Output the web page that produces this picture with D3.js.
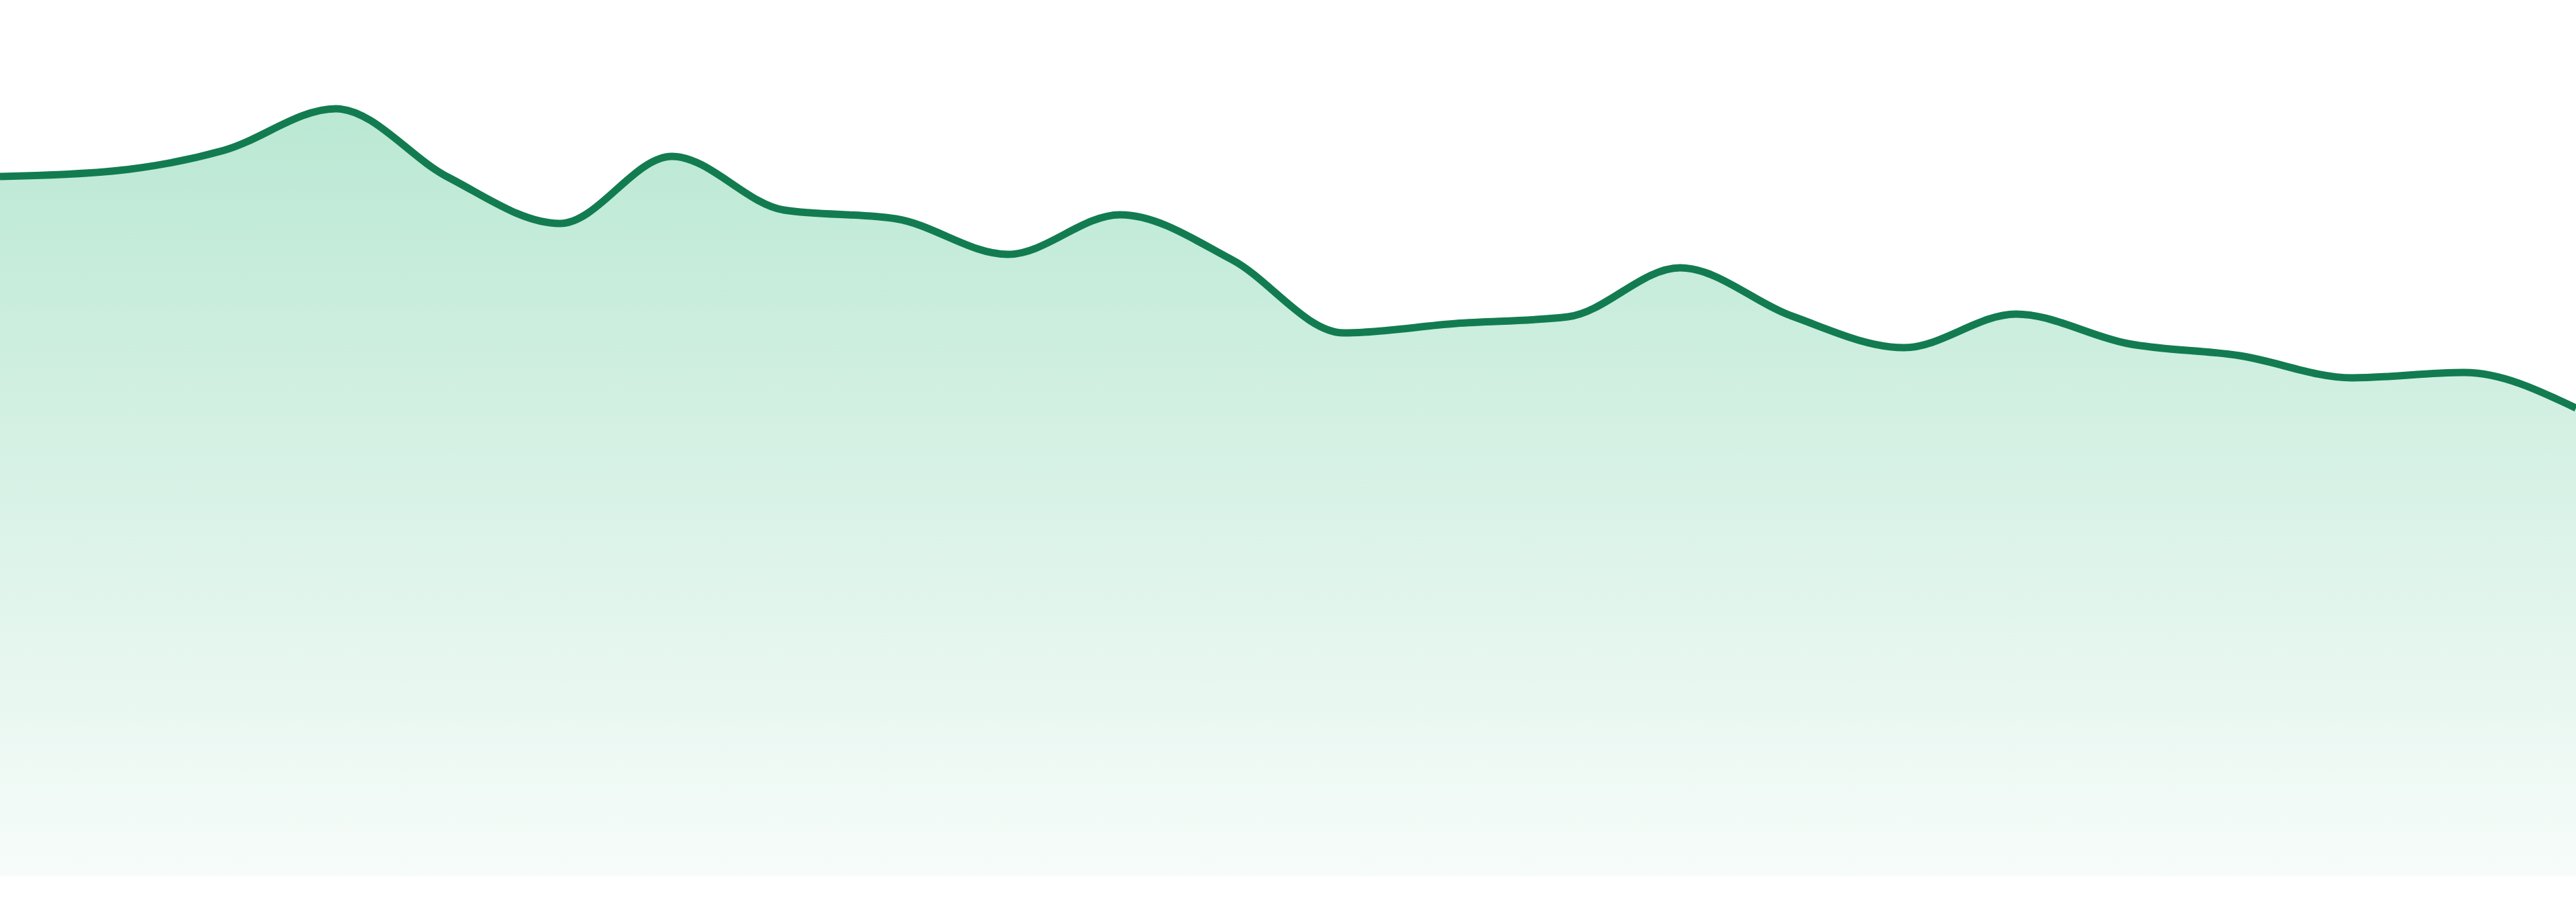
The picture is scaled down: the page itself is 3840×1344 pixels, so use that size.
<!DOCTYPE html>
<html>
<head>
<meta charset="utf-8">
<script src="https://cdn.jsdelivr.net/npm/d3@7"></script>
<style>
  html, body { margin: 0; padding: 0; background: #fff; overflow: hidden; }
  svg { display: block; }
</style>
</head>
<body>
<div id="chart"></div>
<script>
// Series values (24 evenly spaced points)
const steps = d3.range(24);
const values = [1042, 1050, 1081, 1143, 1041, 972, 1072, 992, 979, 926, 985, 918,
                809, 823, 833, 906, 834, 787, 837, 793, 775, 742, 750, 697];

const width = 3840,
      height = 1344;
const margin = { top: 105, right: 0, bottom: 39, left: 0 };

const svg = d3.select("#chart")
  .append("svg")
  .attr("width", width)
  .attr("height", height);

const xScale = d3.scaleLinear()
  .domain([0, steps.length - 1])
  .range([margin.left, width - margin.right]);
const yScale = d3.scaleLinear()
  .domain([0, 1200])
  .range([height - margin.bottom, margin.top]);

const data = steps.map(i => ({ i, v: values[i] }));

// Vertical gradient under the line
const grad = svg.append("defs").append("linearGradient")
  .attr("id", "fillGrad")
  .attr("gradientUnits", "userSpaceOnUse")
  .attr("x1", 0).attr("x2", 0)
  .attr("y1", yScale(d3.max(values)))
  .attr("y2", yScale(0));
grad.append("stop").attr("offset", "0%").attr("stop-color", "#bae8d3");
grad.append("stop").attr("offset", "100%").attr("stop-color", "#f7fcfa");

const area = d3.area()
  .x(d => xScale(d.i))
  .y0(yScale(0))
  .y1(d => yScale(d.v))
  .curve(d3.curveMonotoneX);

const line = d3.line()
  .x(d => xScale(d.i))
  .y(d => yScale(d.v))
  .curve(d3.curveMonotoneX);

svg.append("path")
  .datum(data)
  .attr("fill", "url(#fillGrad)")
  .attr("d", area);

svg.append("path")
  .datum(data)
  .attr("fill", "none")
  .attr("stroke", "#127c50")
  .attr("stroke-width", 11)
  .attr("stroke-linejoin", "round")
  .attr("d", line);
</script>
</body>
</html>
